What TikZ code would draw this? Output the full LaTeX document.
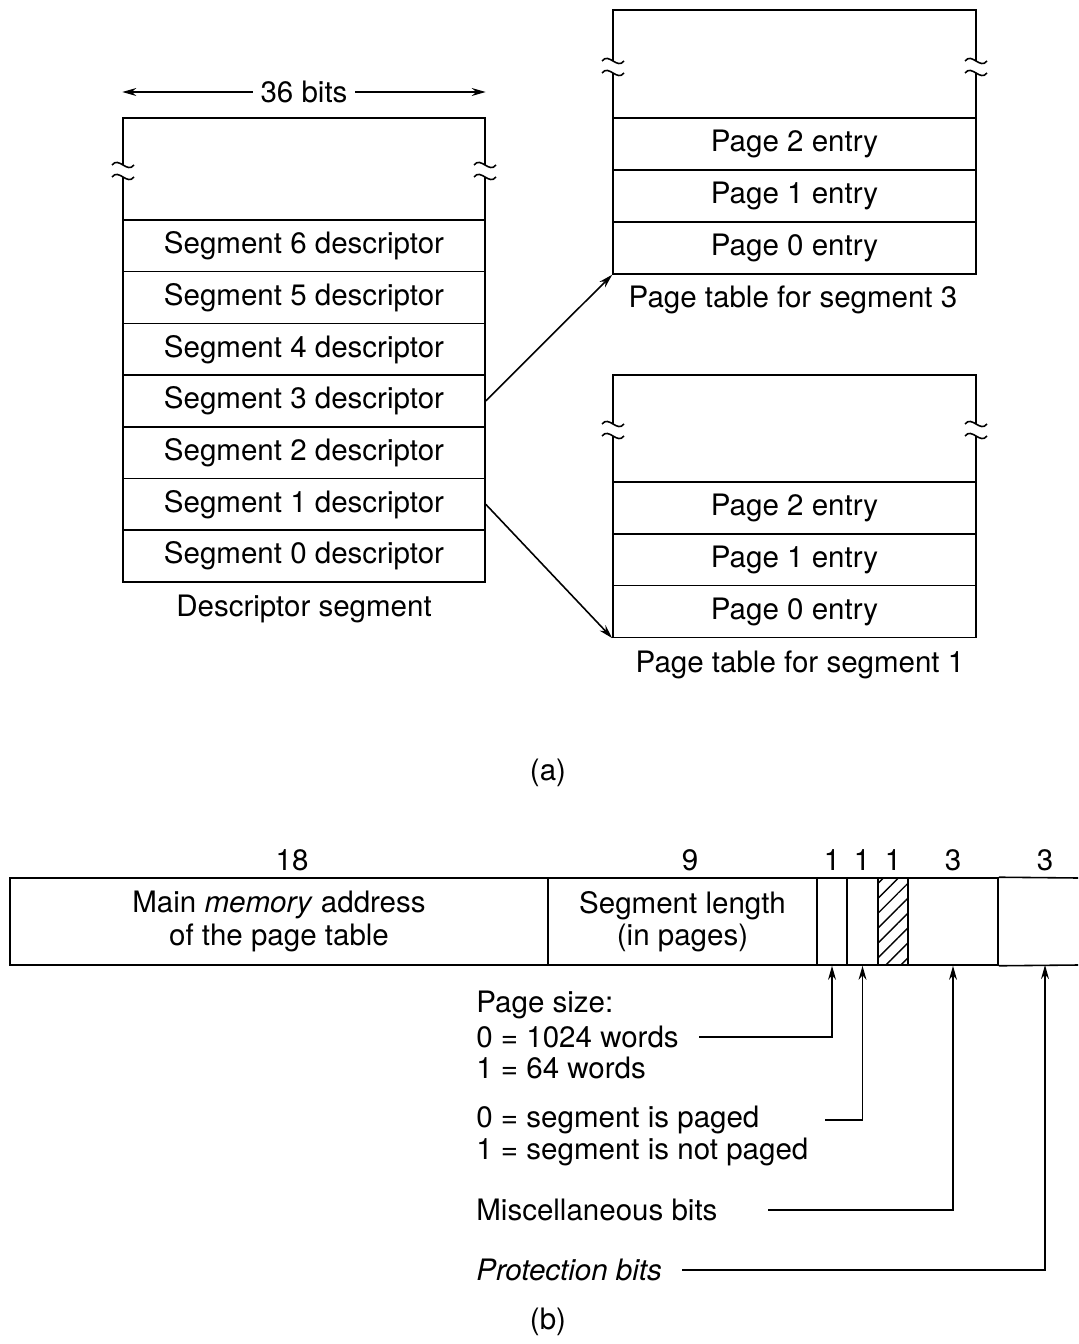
\documentclass[tikz,border=0pt]{standalone}
\usepackage{fontspec}
\setmainfont{TeX Gyre Heros}
\usetikzlibrary{arrows.meta,patterns.meta}

% squiggle pair that marks a cut in a vertical side
\newcommand{\cutmark}[3]{%
  \draw[frame] (#1-11,#2) .. controls (#1-4,#2-9) and (#1+4,#2+9) .. (#1+11,#2);
  \draw[frame] (#1-11,#3) .. controls (#1-4,#3-9) and (#1+4,#3+9) .. (#1+11,#3);}
% open top of a table: left x, right x, top y, bottom y, cut y
\newcommand{\opentop}[5]{%
  \draw[frame] (#1,#4) -- (#1,#5+6) (#1,#5-6) -- (#1,#3) -- (#2,#3) -- (#2,#5-6) (#2,#5+6) -- (#2,#4);
  \cutmark{#1}{#5-6}{#5+6}
  \cutmark{#2}{#5-6}{#5+6}}

\begin{document}
\begin{tikzpicture}[x=0.02cm, y=-0.02cm, >={Stealth[length=8pt,width=4.5pt]},
    font=\fontsize{16.8}{18.5}\selectfont,
    frame/.style={line width=0.9pt},
    cell/.style={draw, line width=0.9pt, minimum width=7.24cm, minimum height=1.036cm, inner sep=0pt},
    field/.style={draw, line width=0.9pt, minimum height=1.74cm, inner sep=0pt, align=center},
    note/.style={anchor=west, inner sep=0pt},
    leader/.style={line width=0.7pt}]
    \useasboundingbox (0,0) rectangle (1078,1344);

    % (a) Descriptor segment
    \foreach \i in {0,...,6}
        \node[cell] (seg\i) at (304,{556-51.7*\i}) {Segment \i\ descriptor};
    \opentop{123}{485}{118}{220}{171}
    \node at (304,609) {Descriptor segment};

    % 36 bits width
    \draw[<->, frame] (seg6.west |- 0,92) -- (seg6.east |- 0,92)
        node[midway, fill=white, inner xsep=4pt] {36 bits};

    % Page table for segment 3
    \foreach \i in {0,1,2}
        \node[cell, minimum width=7.26cm] (pthree\i) at (794.5,{248-52*\i}) {Page \i\ entry};
    \opentop{613}{976}{10}{118}{67}
    \node at (793,300) {Page table for segment 3};

    % Page table for segment 1
    \foreach \i in {0,1,2}
        \node[cell, minimum width=7.26cm] (pone\i) at (794.5,{611.5-51.7*\i}) {Page \i\ entry};
    \opentop{613}{976}{375}{482}{430}
    \node at (800,665) {Page table for segment 1};

    % Pointers to page tables
    \draw[->, frame] (seg3.east) -- (pthree0.south west);
    \draw[->, frame] (seg1.east) -- (pone0.south west);

    \node at (548,773) {(a)};

    % (b) Descriptor word
    \node[field, minimum width=10.76cm] (fmain) at (279,921.5) {Main \textit{memory} address\\of the page table};
    \node[field, minimum width=5.38cm] (flen) at (682.5,921.5) {Segment length\\(in pages)};
    \node[field, minimum width=0.6cm] (fsize) at (832,921.5) {};
    \node[field, minimum width=0.62cm] (fpaged) at (862.5,921.5) {};
    \node[field, minimum width=0.6cm, pattern={Lines[angle=45,distance=6pt,line width=0.8pt]}] (fspare) at (893,921.5) {};
    \node[field, minimum width=1.8cm] (fmisc) at (953,921.5) {};
    \draw[frame] (fmisc.north east) -- (1078,878) (fmisc.south east) -- (1078,965);
    \coordinate (fprot) at (1045,965);

    % Field widths
    \node at (292,860) {18};
    \node at (690,860) {9};
    \node at (832,860) {1};
    \node at (862,860) {1};
    \node at (893,860) {1};
    \node at (953,860) {3};
    \node at (1045,860) {3};

    % Field explanations
    \node[note] (lsize) at (476,1005) {Page size:};
    \node[note] (lsize0) at (476,1037) {0 = 1024 words};
    \node[note] (lsize1) at (476,1068) {1 = 64 words};
    \node[note] (lpaged0) at (476,1120) {0 = segment is paged};
    \node[note] (lpaged1) at (476,1152) {1 = segment is not paged};
    \node[note] (lmisc) at (476,1210) {Miscellaneous bits};
    \node[note] (lprot) at (476,1270) {\textit{Protection bits}};

    \draw[leader, <-, shorten >=0.4cm] (fsize.south) |- (lsize0.east);
    \draw[leader, <-, shorten >=1.3cm] (fpaged.south) |- (lpaged0.east);
    \draw[leader, <-, shorten >=1.0cm] (fmisc.south) |- (lmisc.east);
    \draw[leader, <-, shorten >=0.4cm] (fprot) |- (lprot.east);

    \node at (548,1322) {(b)};
\end{tikzpicture}
\end{document}
